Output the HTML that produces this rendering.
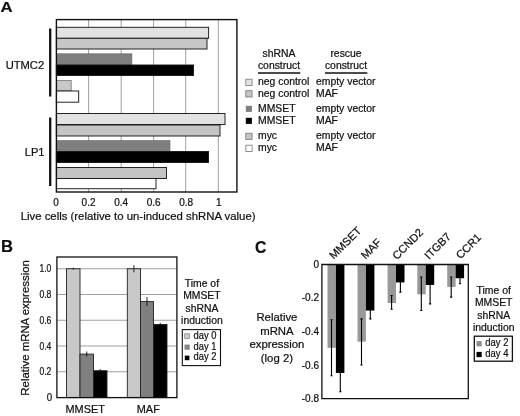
<!DOCTYPE html>
<html><head><meta charset="utf-8"><title>Figure</title>
<style>
html,body{margin:0;padding:0;background:#fff;}
svg{display:block;}
text{font-family:"Liberation Sans",Arial,Helvetica,sans-serif;fill:#111;stroke:#111;stroke-width:0.22px;}
.b{font-weight:bold;}
</style></head><body>
<svg width="520" height="416" viewBox="0 0 520 416">
<rect x="0" y="0" width="520" height="416" fill="#fff"/>

<g id="panelA">
<line x1="88.6" y1="19.6" x2="88.6" y2="192.0" stroke="#888" stroke-width="0.8"/>
<line x1="121.2" y1="19.6" x2="121.2" y2="192.0" stroke="#888" stroke-width="0.8"/>
<line x1="153.6" y1="19.6" x2="153.6" y2="192.0" stroke="#888" stroke-width="0.8"/>
<line x1="185.7" y1="19.6" x2="185.7" y2="192.0" stroke="#888" stroke-width="0.8"/>
<line x1="218.3" y1="19.6" x2="218.3" y2="192.0" stroke="#888" stroke-width="0.8"/>
<rect x="56.4" y="27.3" width="152.20" height="11.00" fill="#e2e2e2" stroke="#1a1a1a" stroke-width="0.95"/>
<rect x="56.4" y="38.3" width="150.60" height="10.70" fill="#c6c6c6" stroke="#1a1a1a" stroke-width="0.95"/>
<rect x="56.4" y="53.8" width="75.50" height="11.20" fill="#7f7f7f" stroke="#666" stroke-width="0.6"/>
<rect x="56.4" y="65" width="137.10" height="10.50" fill="#000" stroke="#1a1a1a" stroke-width="0.95"/>
<rect x="56.4" y="80.5" width="14.80" height="10.10" fill="#c8c8c8" stroke="#777" stroke-width="0.8"/>
<rect x="56.4" y="91" width="22.30" height="11.20" fill="#fff" stroke="#1a1a1a" stroke-width="0.95"/>
<rect x="56.4" y="113.5" width="168.60" height="11.00" fill="#e2e2e2" stroke="#1a1a1a" stroke-width="0.95"/>
<rect x="56.4" y="125" width="163.60" height="11.00" fill="#c4c4c4" stroke="#1a1a1a" stroke-width="0.95"/>
<rect x="56.4" y="140.5" width="113.60" height="11.00" fill="#7f7f7f" stroke="#666" stroke-width="0.6"/>
<rect x="56.4" y="151.5" width="152.10" height="11.00" fill="#000" stroke="#1a1a1a" stroke-width="0.95"/>
<rect x="56.4" y="167.5" width="110.10" height="11.00" fill="#c4c4c4" stroke="#1a1a1a" stroke-width="0.95"/>
<rect x="56.4" y="178.5" width="99.60" height="10.20" fill="#fff" stroke="#1a1a1a" stroke-width="0.95"/>
<rect x="56.4" y="19.6" width="180.5" height="172.4" fill="none" stroke="#111" stroke-width="1.4"/>
<line x1="50.2" y1="28.5" x2="50.2" y2="96.5" stroke="#111" stroke-width="2.3"/>
<line x1="50.2" y1="117.5" x2="50.2" y2="186" stroke="#111" stroke-width="2.3"/>
<text x="44.2" y="68.6" font-size="11.2" text-anchor="end">UTMC2</text>
<text x="44.6" y="156.1" font-size="11.2" text-anchor="end">LP1</text>
<text x="56.00" y="205.9" font-size="10" text-anchor="middle">0</text>
<text x="88.56" y="205.9" font-size="10" text-anchor="middle">0.2</text>
<text x="121.12" y="205.9" font-size="10" text-anchor="middle">0.4</text>
<text x="153.68" y="205.9" font-size="10" text-anchor="middle">0.6</text>
<text x="186.24" y="205.9" font-size="10" text-anchor="middle">0.8</text>
<text x="218.80" y="205.9" font-size="10" text-anchor="middle">1</text>
<text x="138.1" y="219.8" font-size="11.37" text-anchor="middle">Live cells (relative to un-induced shRNA value)</text>
<text class="b" x="0.5" y="12.4" font-size="15.4" textLength="12.1" lengthAdjust="spacingAndGlyphs">A</text>
</g>
<g id="legendA" font-size="10.4">
<text x="279" y="56.7" text-anchor="middle">shRNA</text>
<text x="279" y="68.8" text-anchor="middle">construct</text>
<line x1="258" y1="73" x2="300.3" y2="73" stroke="#111" stroke-width="1.3"/>
<text x="346" y="56.7" text-anchor="middle">rescue</text>
<text x="346" y="68.8" text-anchor="middle">construct</text>
<line x1="325" y1="73" x2="367.3" y2="73" stroke="#111" stroke-width="1.3"/>
<rect x="245.8" y="79.20" width="6.3" height="6.3" fill="#e2e2e2" stroke="#777" stroke-width="0.8"/>
<text x="258" y="85.40">neg control</text>
<text x="316" y="85.40">empty vector</text>
<rect x="245.8" y="90.70" width="6.3" height="6.3" fill="#c4c4c4" stroke="#777" stroke-width="0.8"/>
<text x="258" y="96.90">neg control</text>
<text x="316" y="96.90">MAF</text>
<rect x="245.8" y="105.80" width="6.1" height="6.1" fill="#7f7f7f"/>
<text x="258" y="111.90">MMSET</text>
<text x="316" y="111.90">empty vector</text>
<rect x="245.8" y="117.80" width="6.1" height="6.1" fill="#000"/>
<text x="258" y="123.90">MMSET</text>
<text x="316" y="123.90">MAF</text>
<rect x="245.8" y="133.20" width="6.3" height="6.3" fill="#c4c4c4" stroke="#777" stroke-width="0.8"/>
<text x="258" y="139.40">myc</text>
<text x="316" y="139.40">empty vector</text>
<rect x="245.8" y="145.20" width="6.3" height="6.3" fill="#fff" stroke="#777" stroke-width="0.8"/>
<text x="258" y="151.40">myc</text>
<text x="316" y="151.40">MAF</text>
</g>
<g id="panelB">
<line x1="56.9" y1="371.75" x2="176.9" y2="371.75" stroke="#888" stroke-width="0.8"/>
<line x1="56.9" y1="346.00" x2="176.9" y2="346.00" stroke="#888" stroke-width="0.8"/>
<line x1="56.9" y1="320.25" x2="176.9" y2="320.25" stroke="#888" stroke-width="0.8"/>
<line x1="56.9" y1="294.50" x2="176.9" y2="294.50" stroke="#888" stroke-width="0.8"/>
<line x1="56.9" y1="268.75" x2="176.9" y2="268.75" stroke="#888" stroke-width="0.8"/>
<rect x="66.5" y="268.75" width="13.5" height="128.85" fill="#c8c8c8" stroke="#222" stroke-width="0.9"/>
<line x1="73.25" y1="267.72" x2="73.25" y2="269.78" stroke="#111" stroke-width="0.9"/>
<rect x="80" y="354.11" width="13.5" height="43.49" fill="#7f7f7f" stroke="#222" stroke-width="0.9"/>
<line x1="86.75" y1="351.54" x2="86.75" y2="356.69" stroke="#111" stroke-width="0.9"/>
<rect x="93.5" y="370.72" width="13.5" height="26.88" fill="#000" stroke="#222" stroke-width="0.9"/>
<line x1="100.25" y1="369.18" x2="100.25" y2="372.26" stroke="#111" stroke-width="0.9"/>
<rect x="127.3" y="268.75" width="13.200000000000003" height="128.85" fill="#c8c8c8" stroke="#222" stroke-width="0.9"/>
<line x1="133.9" y1="265.14" x2="133.9" y2="272.36" stroke="#111" stroke-width="0.9"/>
<rect x="140.5" y="301.58" width="13.0" height="96.02" fill="#7f7f7f" stroke="#222" stroke-width="0.9"/>
<line x1="147.0" y1="297.07" x2="147.0" y2="306.09" stroke="#111" stroke-width="0.9"/>
<rect x="153.5" y="324.50" width="13.5" height="73.10" fill="#000" stroke="#222" stroke-width="0.9"/>
<line x1="160.25" y1="322.95" x2="160.25" y2="326.04" stroke="#111" stroke-width="0.9"/>
<rect x="56.9" y="257.0" width="120.0" height="140.60000000000002" fill="none" stroke="#111" stroke-width="1.3"/>
<text x="52.2" y="401.00" font-size="10.2" text-anchor="end" textLength="5.4" lengthAdjust="spacingAndGlyphs">0</text>
<text x="51.3" y="375.25" font-size="10.2" text-anchor="end" textLength="11.9" lengthAdjust="spacingAndGlyphs">0.2</text>
<text x="51.3" y="349.50" font-size="10.2" text-anchor="end" textLength="11.9" lengthAdjust="spacingAndGlyphs">0.4</text>
<text x="51.3" y="323.75" font-size="10.2" text-anchor="end" textLength="11.9" lengthAdjust="spacingAndGlyphs">0.6</text>
<text x="51.3" y="298.00" font-size="10.2" text-anchor="end" textLength="11.9" lengthAdjust="spacingAndGlyphs">0.8</text>
<text x="51.3" y="272.25" font-size="10.2" text-anchor="end" textLength="11.9" lengthAdjust="spacingAndGlyphs">1.0</text>
<text x="85.2" y="413" font-size="10.9" text-anchor="middle">MMSET</text>
<text x="148.3" y="413" font-size="10.9" text-anchor="middle">MAF</text>
<text transform="translate(28.6,327.9) rotate(-90)" font-size="11.4" text-anchor="middle">Relative mRNA expression</text>
<text class="b" x="1.0" y="252" font-size="16" textLength="12.0" lengthAdjust="spacingAndGlyphs">B</text>
<text x="201.9" y="287.00" font-size="10.4" text-anchor="middle">Time of</text>
<text x="201.9" y="299.35" font-size="10.4" text-anchor="middle">MMSET</text>
<text x="201.9" y="311.70" font-size="10.4" text-anchor="middle">shRNA</text>
<text x="201.9" y="324.05" font-size="10.4" text-anchor="middle">induction</text>
<rect x="182.3" y="329.6" width="38.2" height="36" fill="#fff" stroke="#111" stroke-width="1.1"/>
<rect x="184.70" y="333.80" width="4.8" height="4.8" fill="#cfcfcf" stroke="#888" stroke-width="0.8"/>
<text x="193.5" y="338.5" font-size="10.6" textLength="22.9" lengthAdjust="spacingAndGlyphs">day 0</text>
<rect x="184.50" y="344.60" width="5.2" height="5.2" fill="#858585" />
<text x="193.5" y="349.5" font-size="10.6" textLength="22.9" lengthAdjust="spacingAndGlyphs">day 1</text>
<rect x="184.80" y="355.60" width="4.6" height="4.6" fill="#000" />
<text x="193.5" y="360.2" font-size="10.6" textLength="22.9" lengthAdjust="spacingAndGlyphs">day 2</text>
</g>
<g id="panelC">
<rect x="327.5" y="264.5" width="8.4" height="83.37" fill="#999"/>
<rect x="335.9" y="264.5" width="8.5" height="108.48" fill="#000"/>
<path d="M331.5,319.74 V375.82 M330.4,319.74 h2.2 M330.4,375.82 h2.2" fill="none" stroke="#000" stroke-width="1.1"/>
<path d="M340.3,354.90 V391.72 M339.2,354.90 h2.2 M339.2,391.72 h2.2" fill="none" stroke="#000" stroke-width="1.1"/>
<text transform="translate(333.7,259.7) rotate(-45)" font-size="11.1">MMSET</text>
<rect x="357.5" y="264.5" width="8.4" height="77.17" fill="#999"/>
<rect x="365.9" y="264.5" width="8.5" height="46.04" fill="#000"/>
<path d="M361.5,318.90 V364.94 M360.4,318.90 h2.2 M360.4,364.94 h2.2" fill="none" stroke="#000" stroke-width="1.1"/>
<path d="M370.3,306.35 V318.90 M369.2,306.35 h2.2 M369.2,318.90 h2.2" fill="none" stroke="#000" stroke-width="1.1"/>
<text transform="translate(365.4,259.7) rotate(-45)" font-size="11.1">MAF</text>
<rect x="387.6" y="264.5" width="8.4" height="38.50" fill="#999"/>
<rect x="396.0" y="264.5" width="8.5" height="17.91" fill="#000"/>
<path d="M391.6,295.47 V309.20 M390.5,295.47 h2.2 M390.5,309.20 h2.2" fill="none" stroke="#000" stroke-width="1.1"/>
<path d="M400.4,274.54 V292.12 M399.3,274.54 h2.2 M399.3,292.12 h2.2" fill="none" stroke="#000" stroke-width="1.1"/>
<text transform="translate(396.9,260.2) rotate(-45)" font-size="11.1">CCND2</text>
<rect x="417.3" y="264.5" width="8.4" height="29.80" fill="#999"/>
<rect x="425.7" y="264.5" width="8.5" height="20.42" fill="#000"/>
<path d="M421.3,277.06 V310.54 M420.2,277.06 h2.2 M420.2,310.54 h2.2" fill="none" stroke="#000" stroke-width="1.1"/>
<path d="M430.1,272.87 V303.84 M429.0,272.87 h2.2 M429.0,303.84 h2.2" fill="none" stroke="#000" stroke-width="1.1"/>
<text transform="translate(429.0,260.0) rotate(-45)" font-size="11.1">ITGB7</text>
<rect x="447.2" y="264.5" width="8.4" height="22.43" fill="#999"/>
<rect x="455.6" y="264.5" width="8.5" height="13.73" fill="#000"/>
<path d="M451.2,277.06 V297.14 M450.1,277.06 h2.2 M450.1,297.14 h2.2" fill="none" stroke="#000" stroke-width="1.1"/>
<path d="M460.0,272.87 V283.75 M458.9,272.87 h2.2 M458.9,283.75 h2.2" fill="none" stroke="#000" stroke-width="1.1"/>
<text transform="translate(460.6,259.6) rotate(-45)" font-size="11.1">CCR1</text>
<path d="M321.9,264.5 H468.3 V398.7 H321.9 Z" fill="none" stroke="#111" stroke-width="1.3"/>
<text x="319" y="267.80" font-size="10" text-anchor="end">0</text>
<text x="319" y="301.42" font-size="10" text-anchor="end">-0.2</text>
<text x="319" y="335.04" font-size="10" text-anchor="end">-0.4</text>
<text x="319" y="368.66" font-size="10" text-anchor="end">-0.6</text>
<text x="319" y="402.28" font-size="10" text-anchor="end">-0.8</text>
<text x="276.9" y="320.90" font-size="11.35" text-anchor="middle">Relative</text>
<text x="276.9" y="334.60" font-size="11.35" text-anchor="middle">mRNA</text>
<text x="276.9" y="348.30" font-size="11.35" text-anchor="middle">expression</text>
<text x="276.9" y="362.00" font-size="11.35" text-anchor="middle">(log 2)</text>
<text class="b" x="255" y="253" font-size="15.8">C</text>
<text x="493.7" y="294.00" font-size="10.4" text-anchor="middle">Time of</text>
<text x="493.7" y="306.40" font-size="10.4" text-anchor="middle">MMSET</text>
<text x="493.7" y="318.80" font-size="10.4" text-anchor="middle">shRNA</text>
<text x="493.7" y="331.20" font-size="10.4" text-anchor="middle">induction</text>
<rect x="474.3" y="336.2" width="38.1" height="25" fill="#fff" stroke="#111" stroke-width="1.3"/>
<rect x="476.5" y="341.10" width="5.2" height="5.2" fill="#8c8c8c"/>
<text x="485.3" y="345.8" font-size="10.6" textLength="23.2" lengthAdjust="spacingAndGlyphs">day 2</text>
<rect x="476.5" y="351.90" width="5.2" height="5.2" fill="#000"/>
<text x="485.3" y="356.7" font-size="10.6" textLength="23.2" lengthAdjust="spacingAndGlyphs">day 4</text>
</g>
</svg>
</body></html>
